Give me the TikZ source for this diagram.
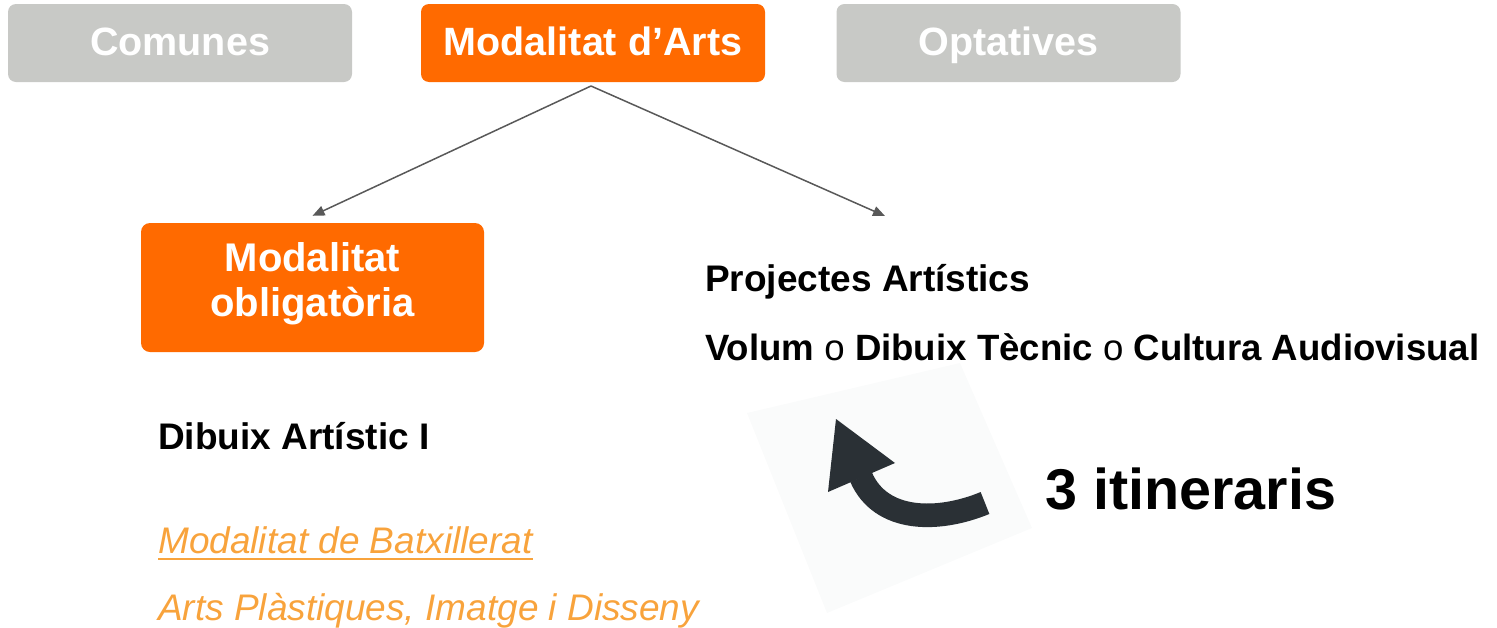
\documentclass[tikz,border=0pt]{standalone}
\usepackage{fontspec}
\setmainfont{Liberation Sans}
\usetikzlibrary{arrows.meta}
\definecolor{boxorange}{HTML}{FF6A00}
\definecolor{boxgray}{HTML}{C8C9C6}
\definecolor{linkorange}{HTML}{F8A33C}
\definecolor{arrowdark}{HTML}{2A3035}
\definecolor{connector}{HTML}{595959}
\definecolor{faint}{HTML}{FAFBFB}
\begin{document}
\begin{tikzpicture}[x=1pt,y=-1pt,
  headbox/.style={rounded corners=8pt, minimum width=344pt, minimum height=78pt,
    inner sep=0pt, text=white, font=\fontsize{39.5}{45}\selectfont\bfseries,
    text height=28pt, text depth=4pt},
  obox/.style={rounded corners=9pt, minimum width=343pt, minimum height=129pt,
    inner sep=0pt, fill=boxorange},
  obtext/.style={inner sep=0pt, text=white, align=center,
    font=\fontsize{40}{45}\selectfont\bfseries},
  bodytext/.style={anchor=base west, inner sep=0pt, font=\fontsize{37}{44}\selectfont\bfseries},
  linktext/.style={anchor=base west, inner sep=0pt, text=linkorange, font=\fontsize{37}{44}\selectfont\itshape},
  conn/.style={draw=connector, line width=1.5pt, -{Triangle[length=12pt,width=10pt]}, fill=connector}
]
\useasboundingbox (0,0) rectangle (1497,627);

% top row
\node[headbox, fill=boxgray] (comunes) at (180,43) {Comunes};
\node[headbox, fill=boxorange] (arts) at (593,43) {Modalitat d’Arts};
\node[headbox, fill=boxgray] (optat) at (1008.5,43) {Optatives};

% obligatory box
\node[obox] (oblig) at (312.5,287.5) {};
\node[obtext] (obligtext) at (312.5,283.5) {Modalitat\\obligatòria};

% texts
\node[bodytext] (proj) at (705,291) {Projectes Artístics};
\node[bodytext, font=\fontsize{36.6}{44}\selectfont\bfseries] (vol) at (705,360) {Volum {\mdseries o} Dibuix Tècnic {\mdseries o} Cultura Audiovisual};
\node[bodytext] (dib) at (158,449) {Dibuix Artístic I};
\node[bodytext, font=\fontsize{57.5}{60}\selectfont\bfseries] (itin) at (1045,509) {3 itineraris};
\node[linktext] (bat) at (158,553) {Modalitat de Batxillerat};
\draw[linkorange, line width=2.5pt] ([yshift=-6pt]bat.base west) -- ([yshift=-6pt]bat.base east);
\node[linktext] (apl) at (158,620) {Arts Plàstiques, Imatge i Disseny};

% connectors
\coordinate (split) at (591,86);
\coordinate (rightend) at (885,216);
\draw[conn] (split) -- ([yshift=7pt]oblig.north);
\draw[conn] (split) -- (rightend);

% curved arrow picture
\fill[faint] (747,413) -- (960,363) -- (1032,528) -- (827,613) -- cycle;
\draw[arrowdark, line width=23.6pt] (985,503) .. controls (939,522) and (881,523) .. (861,477);
\fill[arrowdark] (836,419) -- (895,463) -- (828,492) -- cycle;
\end{tikzpicture}
\end{document}
